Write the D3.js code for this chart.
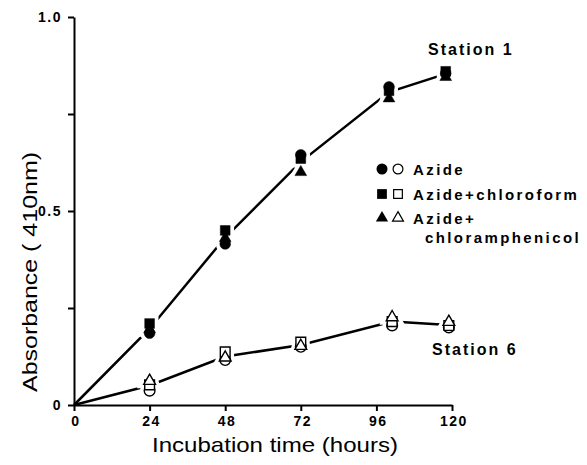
<!DOCTYPE html>
<html>
<head>
<meta charset="utf-8">
<script src="https://cdn.jsdelivr.net/npm/d3@7"></script>
<style>
  body { margin: 0; background: #fff; }
  svg { display: block; }
  .tick text { font-family: "Liberation Sans", Arial, sans-serif; font-weight: bold; font-size: 14px; letter-spacing: 1.5px; }
</style>
</head>
<body>
<svg id="chart" width="587" height="465"></svg>
<script>
// valeurs
const hours1 = [24, 48, 72, 100, 118];
const hours6 = [24, 48, 72, 101, 119];

const st1Azide = [0.185, 0.415, 0.645, 0.82, 0.855];
const st1Chloroform = [0.21, 0.45, 0.635, 0.81, 0.86];
const st1Chloramph = [0.195, 0.43, 0.60, 0.79, 0.845];

const st6Azide = [0.037, 0.116, 0.15, 0.205, 0.20];
const st6Chloroform = [0.052, 0.137, 0.162, 0.215, 0.205];
const st6Chloramph = [0.062, 0.122, 0.152, 0.226, 0.214];

const xTicks = [0, 24, 48, 72, 96, 120];
const yTicks = [0, 0.25, 0.5, 0.75, 1.0];
const yLabels = { 0: "0", 0.5: "0.5", 1: "1.0" };

const legendItems = [
  { shape: "circle", lines: ["Azide"] },
  { shape: "square", lines: ["Azide+chloroform"] },
  { shape: "triangle", lines: ["Azide+", "chloramphenicol"] }
];

const svg = d3.select("#chart");
const x = d3.scaleLinear().domain([0, 120]).range([74, 452]);
const y = d3.scaleLinear().domain([0, 1]).range([405, 17]);

const FONT = '"Liberation Sans", Arial, sans-serif';

// axes
const xAxis = svg.append("g").attr("transform", `translate(0,${y(0)})`)
  .call(d3.axisBottom(x).tickValues(xTicks).tickSize(6).tickSizeOuter(0).tickPadding(5));
const yAxis = svg.append("g").attr("transform", `translate(${x(0)},0)`)
  .call(d3.axisLeft(y).tickValues(yTicks).tickSize(6).tickSizeOuter(0).tickPadding(6)
    .tickFormat(d => yLabels[d] !== undefined ? yLabels[d] : ""));
[xAxis, yAxis].forEach(g => {
  g.select(".domain").attr("stroke", "#000").attr("stroke-width", 2);
  g.selectAll(".tick line").attr("stroke", "#000").attr("stroke-width", 2);
  g.selectAll(".tick text").attr("fill", "#000");
});
xAxis.selectAll(".tick text").attr("dx", "0.1em");

// labels d'axes
svg.append("text").attr("x", 275).attr("y", 452).attr("text-anchor", "middle")
  .attr("font-family", FONT).attr("font-size", 21).attr("textLength", 246).attr("lengthAdjust", "spacingAndGlyphs")
  .text("Incubation time (hours)");
svg.append("text").attr("transform", "translate(37,272) rotate(-90)").attr("text-anchor", "middle")
  .attr("font-family", FONT).attr("font-size", 21).attr("textLength", 240).attr("lengthAdjust", "spacingAndGlyphs")
  .text("Absorbance ( 410nm)");

// courbes
function meanLine(hours, a, b, c) {
  return [{ h: 0, v: 0 }].concat(hours.map((h, i) => ({ h, v: (a[i] + b[i] + c[i]) / 3 })));
}
const line = d3.line().x(d => x(d.h)).y(d => y(d.v));
const line1 = meanLine(hours1, st1Azide, st1Chloroform, st1Chloramph);
const line6 = meanLine(hours6, st6Azide, st6Chloroform, st6Chloramph);
[line1, line6].forEach(data => {
  svg.append("path").datum(data).attr("fill", "none").attr("stroke", "#000").attr("stroke-width", 2.5).attr("d", line);
});

const symbols = { circle: d3.symbolCircle, square: d3.symbolSquare, triangle: d3.symbolTriangle };
const sizes = { circle: 90, square: 95, triangle: 60 };
const sym = s => d3.symbol().type(symbols[s]).size(sizes[s])();

const points = [];
function addPts(hours, vals, shape, filled) {
  hours.forEach((h, i) => points.push({ h, v: vals[i], shape, filled }));
}
addPts(hours1, st1Chloramph, "triangle", true);
addPts(hours1, st1Azide, "circle", true);
addPts(hours1, st1Chloroform, "square", true);
addPts(hours6, st6Azide, "circle", false);
addPts(hours6, st6Chloroform, "square", false);
addPts(hours6, st6Chloramph, "triangle", false);

// halo blanc pour couper la ligne autour des points
svg.append("g").selectAll("path").data(points).join("path")
  .attr("transform", d => `translate(${x(d.h)},${y(d.v)})`)
  .attr("d", d => sym(d.shape))
  .attr("fill", "#fff").attr("stroke", "#fff").attr("stroke-width", 8);

svg.append("g").selectAll("path").data(points).join("path")
  .attr("transform", d => `translate(${x(d.h)},${y(d.v)})`)
  .attr("d", d => sym(d.shape))
  .attr("fill", d => d.filled ? "#000" : "#fff")
  .attr("stroke", "#000").attr("stroke-width", d => d.filled ? 0.5 : 1.4);

// annotations
svg.append("text").attr("x", 428).attr("y", 55).attr("font-family", FONT).attr("font-weight", "bold")
  .attr("font-size", 16).attr("letter-spacing", 2).text("Station 1");
svg.append("text").attr("x", 432).attr("y", 355).attr("font-family", FONT).attr("font-weight", "bold")
  .attr("font-size", 16).attr("letter-spacing", 2).text("Station 6");

// légende
const legendY = [169, 194, 218];
legendItems.forEach((item, i) => {
  const g = svg.append("g").attr("transform", `translate(0,${legendY[i]})`);
  const sz = { circle: 95, square: 95, triangle: 65 }[item.shape];
  g.append("path").attr("transform", "translate(382,0)").attr("d", d3.symbol().type(symbols[item.shape]).size(sz)())
    .attr("fill", "#000");
  g.append("path").attr("transform", "translate(398,0)").attr("d", d3.symbol().type(symbols[item.shape]).size(sz * 0.8)())
    .attr("fill", "#fff").attr("stroke", "#000").attr("stroke-width", 1.2);
  item.lines.forEach((t, j) => {
    g.append("text").attr("x", j === 0 ? 413 : 425).attr("y", 5.5 + j * 19)
      .attr("font-family", FONT).attr("font-weight", "bold").attr("font-size", 15)
      .attr("letter-spacing", 2.4).text(t);
  });
});
</script>
</body>
</html>
